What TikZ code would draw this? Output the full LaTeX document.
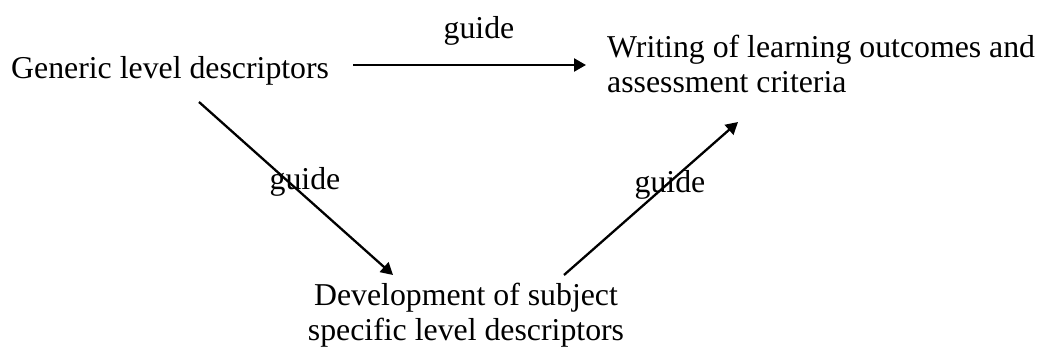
\documentclass[tikz,border=0pt]{standalone}
\usepackage{fontspec}
\setmainfont{Liberation Serif}
\usetikzlibrary{arrows.meta}
\begin{document}
\begin{tikzpicture}[x=1pt,y=-1pt,
  txt/.style={inner sep=0pt,font=\fontsize{31.8}{35}\selectfont},
  arr/.style={line width=2.3pt,-{Triangle[length=12pt,width=13pt]}}]
\useasboundingbox (0,0) rectangle (1040,347);
\node[txt,anchor=base west] (gen) at (11,79) {Generic level descriptors};
\node[txt,anchor=base west,align=left] (wri) at (607,93) {Writing of learning outcomes and\\assessment criteria};
\node[txt,anchor=base,align=center] (dev) at (466,340) {Development of subject\\specific level descriptors};
\coordinate (g1) at (353,65);
\coordinate (w1) at (586,65);
\coordinate (g2) at (199,102);
\coordinate (d2) at (393,275);
\coordinate (d3) at (564,275);
\coordinate (w3) at (738,122);
\draw[arr] (g1) -- (w1);
\draw[arr] (g2) -- (d2);
\draw[arr] (d3) -- (w3);
\node[txt,anchor=base] (l1) at (479,39) {guide};
\node[txt,anchor=base] (l2) at (305,190) {guide};
\node[txt,anchor=base] (l3) at (670,193) {guide};
\end{tikzpicture}
\end{document}
